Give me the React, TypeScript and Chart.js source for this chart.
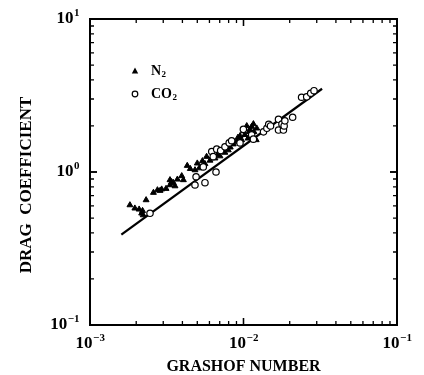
import React, { useEffect, useRef } from "react";
import { Chart, registerables } from "chart.js";
Chart.register(...registerables);

// N2 (filled triangles)
const n2X = [1.82e-3, 1.96e-3, 2.09e-3, 2.2e-3, 2.32e-3, 2.22e-3, 2.17e-3, 2.59e-3, 2.75e-3, 2.86e-3, 2.93e-3, 3.13e-3, 3.32e-3, 3.32e-3, 3.4e-3, 3.49e-3, 3.58e-3, 3.71e-3, 3.96e-3, 4.06e-3, 4.3e-3, 4.5e-3, 4.83e-3, 5.0e-3, 5.15e-3, 5.4e-3, 5.61e-3, 5.75e-3, 6.05e-3, 6.52e-3, 6.8e-3, 7.03e-3, 7.57e-3, 7.96e-3, 8.2e-3, 8.58e-3, 9.04e-3, 9.2e-3, 9.49e-3, 9.73e-3, 1.0e-2, 1.02e-2, 1.05e-2, 1.07e-2, 1.09e-2, 1.1e-2, 1.13e-2, 1.16e-2, 1.17e-2, 1.21e-2, 1.22e-2];
const n2Y = [0.608, 0.579, 0.57, 0.558, 0.656, 0.523, 0.537, 0.733, 0.762, 0.755, 0.771, 0.778, 0.887, 0.822, 0.86, 0.851, 0.809, 0.895, 0.942, 0.887, 1.1, 1.05, 1.03, 1.14, 1.06, 1.18, 1.13, 1.26, 1.19, 1.23, 1.3, 1.27, 1.34, 1.39, 1.45, 1.52, 1.58, 1.68, 1.72, 1.62, 1.85, 1.75, 2.0, 1.66, 1.83, 1.9, 1.98, 2.06, 1.83, 1.62, 1.93];

// CO2 (open circles)
const co2X = [2.46e-3, 4.83e-3, 4.91e-3, 5.47e-3, 5.61e-3, 6.21e-3, 6.35e-3, 6.62e-3, 6.69e-3, 7.1e-3, 7.57e-3, 8.07e-3, 8.37e-3, 9.49e-3, 9.98e-3, 1.13e-2, 1.16e-2, 1.35e-2, 1.42e-2, 1.46e-2, 1.5e-2, 1.69e-2, 1.69e-2, 1.78e-2, 1.82e-2, 1.84e-2, 1.86e-2, 2.09e-2, 2.39e-2, 2.58e-2, 2.74e-2, 2.88e-2];
const co2Y = [0.537, 0.822, 0.931, 1.08, 0.851, 1.36, 1.26, 1.0, 1.41, 1.38, 1.46, 1.55, 1.6, 1.55, 1.9, 1.75, 1.64, 1.83, 1.93, 2.05, 2.0, 2.21, 1.88, 2.06, 1.88, 2.0, 2.16, 2.28, 3.08, 3.1, 3.27, 3.4];

// Fitted power-law line
const fitX = [1.6e-3, 3.25e-2];
const fitY = [0.39, 3.5];

const xTickExps = [-3, -2, -1];
const yTickExps = [-1, 0, 1];
const seriesNames = ["N", "CO"];
const seriesSubs = ["2", "2"];
const xTitle = "GRASHOF NUMBER";
const yTitle = "DRAG  COEFFICIENT";

const FONT = "'Liberation Serif', 'Times New Roman', serif";

const decorPlugin = {
  id: "decor",
  afterDraw(chart: any) {
    const ctx = chart.ctx;
    const { left, right, top, bottom } = chart.chartArea;
    const xs = chart.scales.x;
    const ys = chart.scales.y;
    ctx.save();
    ctx.strokeStyle = "#000";
    ctx.fillStyle = "#000";
    ctx.lineWidth = 2;
    ctx.strokeRect(left, top, right - left, bottom - top);
    ctx.lineWidth = 1.3;
    // ticks
    for (let e = -3; e < -1; e++) {
      for (let m = 1; m <= 10; m++) {
        const v = m * Math.pow(10, e);
        const px = xs.getPixelForValue(v);
        const len = m === 1 || m === 10 ? 7 : 4;
        ctx.beginPath();
        ctx.moveTo(px, bottom);
        ctx.lineTo(px, bottom - len);
        ctx.moveTo(px, top);
        ctx.lineTo(px, top + len);
        ctx.stroke();
      }
    }
    for (let e = -1; e < 1; e++) {
      for (let m = 1; m <= 10; m++) {
        const v = m * Math.pow(10, e);
        const py = ys.getPixelForValue(v);
        const len = m === 1 || m === 10 ? 7 : 4;
        ctx.beginPath();
        ctx.moveTo(left, py);
        ctx.lineTo(left + len, py);
        ctx.moveTo(right, py);
        ctx.lineTo(right - len, py);
        ctx.stroke();
      }
    }
    // tick labels
    const base = "bold 17px " + FONT;
    const sup = "bold 11px " + FONT;
    ctx.textBaseline = "middle";
    const measure = (exp: number) => {
      ctx.font = base;
      const w1 = ctx.measureText("10").width;
      ctx.font = sup;
      const w2 = ctx.measureText(exp < 0 ? "\u2212" + Math.abs(exp) : String(exp)).width;
      return [w1, w2];
    };
    const drawLabel = (exp: number, x: number, y: number) => {
      const s = exp < 0 ? "\u2212" + Math.abs(exp) : String(exp);
      ctx.textAlign = "left";
      ctx.font = base;
      ctx.fillText("10", x, y);
      const w1 = ctx.measureText("10").width;
      ctx.font = sup;
      ctx.fillText(s, x + w1 + 0.5, y - 6);
    };
    xTickExps.forEach((e) => {
      const [w1, w2] = measure(e);
      const px = xs.getPixelForValue(Math.pow(10, e));
      drawLabel(e, px - (w1 + w2) / 2, bottom + 19);
    });
    yTickExps.forEach((e) => {
      const [w1, w2] = measure(e);
      const py = ys.getPixelForValue(Math.pow(10, e));
      drawLabel(e, left - 11 - (w1 + w2), py);
    });
    // axis titles
    ctx.font = "bold 16px " + FONT;
    ctx.textAlign = "center";
    ctx.fillText(xTitle, (left + right) / 2, bottom + 42);
    ctx.save();
    ctx.font = "bold 17px " + FONT;
    ctx.translate(27, (top + bottom) / 2 + 13);
    ctx.rotate(-Math.PI / 2);
    ctx.fillText(yTitle, 0, 0);
    ctx.restore();
    // legend
    const lx = left + 45;
    const ly0 = top + 52;
    const lyStep = 23;
    chart.data.datasets.forEach((ds: any, i: number) => {
      if (i > 1) return;
      const idx = ds.legendIndex;
      const y = ly0 + idx * lyStep;
      ctx.lineWidth = 1.2;
      if (ds.pointStyle === "triangle") {
        ctx.beginPath();
        ctx.moveTo(lx, y - 3.5);
        ctx.lineTo(lx + 3.2, y + 2.5);
        ctx.lineTo(lx - 3.2, y + 2.5);
        ctx.closePath();
        ctx.fill();
      } else {
        ctx.beginPath();
        ctx.arc(lx, y, 2.8, 0, Math.PI * 2);
        ctx.stroke();
      }
      ctx.textAlign = "left";
      ctx.font = "bold 14px " + FONT;
      ctx.fillText(seriesNames[idx], lx + 16, y);
      const w = ctx.measureText(seriesNames[idx]).width;
      ctx.font = "bold 9px " + FONT;
      ctx.fillText(seriesSubs[idx], lx + 16 + w + 0.5, y + 4);
    });
    ctx.restore();
  },
};

export default function App() {
  const ref = useRef<HTMLCanvasElement>(null);
  useEffect(() => {
    document.body.style.margin = "0";
    const canvas = ref.current!;
    const chart = new Chart(canvas, {
      type: "scatter",
      data: {
        datasets: [
          {
            label: "CO2",
            legendIndex: 1,
            data: co2X.map((x, i) => ({ x, y: co2Y[i] })),
            pointStyle: "circle",
            pointRadius: 3.2,
            pointBorderWidth: 1.2,
            backgroundColor: "#fff",
            borderColor: "#000",
            order: 1,
          } as any,
          {
            label: "N2",
            legendIndex: 0,
            data: n2X.map((x, i) => ({ x, y: n2Y[i] })),
            pointStyle: "triangle",
            pointRadius: 3.4,
            pointBorderWidth: 1,
            backgroundColor: "#000",
            borderColor: "#000",
            order: 2,
          } as any,
          {
            type: "line",
            label: "fit",
            data: fitX.map((x, i) => ({ x, y: fitY[i] })),
            borderColor: "#000",
            borderWidth: 2.2,
            pointRadius: 0,
            fill: false,
            order: 3,
          } as any,
        ],
      },
      options: {
        responsive: false,
        animation: false,
        devicePixelRatio: 1,
        layout: { padding: { left: 90, right: 27, top: 19, bottom: 50 } },
        plugins: { legend: { display: false }, tooltip: { enabled: false } },
        scales: {
          x: { type: "logarithmic", min: 1e-3, max: 1e-1, display: false },
          y: { type: "logarithmic", min: 1e-1, max: 10, display: false },
        },
      },
      plugins: [decorPlugin],
    });
    return () => chart.destroy();
  }, []);
  return (
    <div style={{ width: 424, height: 375, background: "#fff" }}>
      <canvas ref={ref} width={424} height={375} />
    </div>
  );
}
